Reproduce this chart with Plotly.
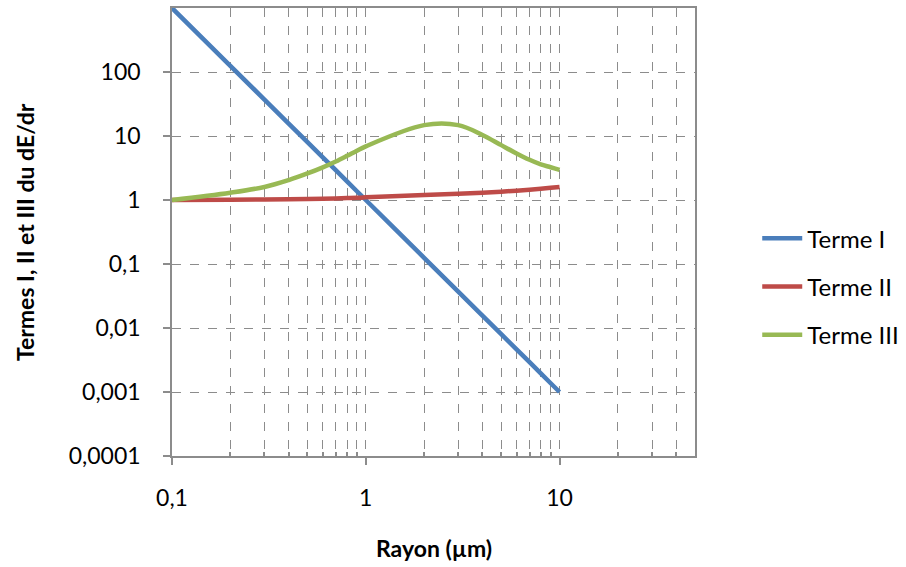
import plotly.graph_objects as go

rayon = [0.1, 0.2, 0.3, 0.4, 0.5, 0.6, 0.7, 0.8, 0.9, 1, 2, 3, 4, 5, 6, 7, 8, 9, 10]
terme_1 = [1000, 125, 37, 15.6, 8, 4.63, 2.92, 1.95, 1.37, 1, 0.125, 0.037, 0.0156,
           0.008, 0.00463, 0.00292, 0.00195, 0.00137, 0.001]
terme_2 = [1.0, 1.01, 1.02, 1.03, 1.04, 1.05, 1.06, 1.07, 1.08, 1.1, 1.2, 1.25, 1.3,
           1.35, 1.4, 1.45, 1.5, 1.55, 1.6]
terme_3 = [1.0, 1.3, 1.6, 2.05, 2.6, 3.24, 4.0, 4.9, 5.9, 6.9, 14.8, 14.8, 10.4,
           7.2, 5.35, 4.25, 3.6, 3.25, 2.95]

series_names = ["Terme I", "Terme II", "Terme III"]
colors = ["#4A7EBB", "#BE4B48", "#98B954"]

y_tick_vals = [0.0001, 0.001, 0.01, 0.1, 1, 10, 100]
y_tick_text = ["0,0001", "0,001", "0,01", "0,1", "1", "10", "100"]
x_tick_vals = [0.1, 1, 10]
x_tick_text = ["0,1", "1", "10"]
x_minor_vals = [0.2, 0.3, 0.4, 0.5, 0.6, 0.7, 0.8, 0.9,
                2, 3, 4, 5, 6, 7, 8, 9, 20, 30, 40]

FONT = "Lato, Calibri, Carlito, sans-serif"
GRID = "#8C8C8C"
FS = 23

fig = go.Figure()
for name, vals, col in zip(series_names, [terme_1, terme_2, terme_3], colors):
    fig.add_trace(go.Scatter(
        x=rayon, y=vals, mode="lines", name=name, legendgroup=name,
        line=dict(color=col, width=4.5, shape="spline", smoothing=1.0),
    ))

fig.update_layout(
    width=906, height=567,
    margin=dict(l=172, r=211, t=8, b=111, autoexpand=False),
    paper_bgcolor="white", plot_bgcolor="white",
    font=dict(family=FONT, size=FS, color="#000000"),
    showlegend=True,
    legend=dict(x=1.119, xanchor="left", xref="paper", y=0.378, yanchor="middle",
                tracegroupgap=14, font=dict(size=24), itemwidth=40,
                bgcolor="rgba(0,0,0,0)", borderwidth=0),
    xaxis=dict(
        type="log", range=[-1, 1.69897], automargin=False,
        tickvals=x_tick_vals, ticktext=x_tick_text,
        ticks="outside", ticklen=7, tickcolor=GRID, tickwidth=1.5,
        ticklabelstandoff=14,
        showline=True, linecolor=GRID, linewidth=1.5, mirror=True,
        showgrid=True, gridcolor=GRID, griddash="dash", gridwidth=1,
        minor=dict(tickvals=x_minor_vals, showgrid=True, gridcolor=GRID,
                   griddash="dash", gridwidth=1, ticks="inside", ticklen=4,
                   tickcolor=GRID),
        zeroline=False,
    ),
    yaxis=dict(
        type="log", range=[-4, 3], automargin=False,
        tickvals=y_tick_vals, ticktext=y_tick_text,
        ticks="outside", ticklen=7, tickcolor=GRID, tickwidth=1.5,
        ticklabelstandoff=18,
        showline=True, linecolor=GRID, linewidth=1.5, mirror=True,
        showgrid=True, gridcolor=GRID, griddash="dash", gridwidth=1,
        zeroline=False,
    ),
    annotations=[
        dict(text="<b>Rayon (µm)</b>", xref="paper", yref="paper", x=0.5, y=-0.205,
             xanchor="center", yanchor="middle", showarrow=False, font=dict(size=FS)),
        dict(text="<b>Termes I, II et III du dE/dr</b>", xref="paper", yref="paper",
             x=-0.281, y=0.5, xanchor="center", yanchor="middle", textangle=-90,
             showarrow=False, font=dict(size=FS)),
    ],
)

fig.write_html("out.html", config={"displayModeBar": False},
               post_script="document.body.style.margin='0px';")
